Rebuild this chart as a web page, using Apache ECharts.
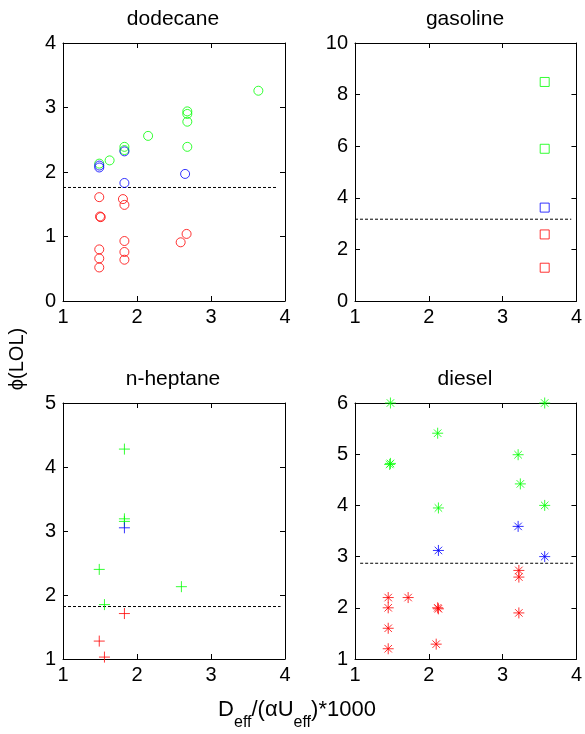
<!DOCTYPE html>
<html>
<head>
<meta charset="utf-8">
<script src="https://cdn.jsdelivr.net/npm/echarts@6/dist/echarts.min.js"></script>
<style>
html,body{margin:0;padding:0;background:#fff;}
#chart{width:585px;height:734px;}
</style>
</head>
<body>
<div id="chart"></div>
<script>
// ---- data ----
const panelTitles = ['dodecane', 'gasoline', 'n-heptane', 'diesel'];
const xTicks = [1, 4, 1];               // min, max, interval (all panels)
const yRanges = [[0, 4, 1], [0, 10, 2], [1, 5, 1], [1, 6, 1]];

const dodecaneGreen = [[1.49,2.13],[1.63,2.18],[1.83,2.39],[1.83,2.34],[2.15,2.56],[2.68,2.94],[2.68,2.90],[2.68,2.78],[2.68,2.39],[3.64,3.26]];
const dodecaneBlue  = [[1.49,2.10],[1.49,2.07],[1.83,2.32],[1.83,1.83],[2.65,1.97]];
const dodecaneRed   = [[1.49,1.61],[1.50,1.31],[1.51,1.30],[1.49,0.80],[1.49,0.66],[1.49,0.52],[1.81,1.58],[1.83,1.49],[1.83,0.93],[1.83,0.76],[1.83,0.64],[2.59,0.91],[2.67,1.04]];
const dodecaneThreshold = [[1.0,1.76],[3.89,1.76]];

const gasolineGreen = [[3.57,8.49],[3.57,5.90]];
const gasolineBlue  = [[3.57,3.62]];
const gasolineRed   = [[3.57,2.58],[3.57,1.29]];
const gasolineThreshold = [[1.0,3.17],[3.93,3.17]];

const heptaneGreen = [[1.83,4.28],[1.83,3.19],[1.83,3.15],[1.49,2.40],[1.56,1.85],[2.60,2.13]];
const heptaneBlue  = [[1.83,3.05]];
const heptaneRed   = [[1.83,1.71],[1.49,1.28],[1.56,1.03]];
const heptaneThreshold = [[1.0,1.82],[3.94,1.82]];

const dieselGreen = [[1.48,6.00],[1.48,4.82],[1.47,4.80],[2.12,5.41],[2.13,3.95],[3.21,4.99],[3.24,4.42],[3.57,6.00],[3.57,4.00]];
const dieselBlue  = [[2.13,3.12],[3.21,3.59],[3.57,3.00]];
const dieselRed   = [[1.45,2.20],[1.45,2.00],[1.45,1.60],[1.45,1.20],[1.72,2.20],[2.12,2.00],[2.13,1.98],[2.10,1.29],[3.22,2.73],[3.22,2.60],[3.22,1.90]];
const dieselThreshold = [[1.07,2.87],[3.96,2.87]];

const yAxisLabel = 'ϕ(LOL)';

// ---- styling ----
const FONT = 'Liberation Sans, Arial, sans-serif';
const COLORS = {green: '#00ff00', blue: '#0000ff', red: '#ff0000'};
const grids = [
  {left: 63, top: 43, width: 222, height: 258},
  {left: 355, top: 43, width: 223, height: 258},
  {left: 63, top: 403, width: 222, height: 256},
  {left: 355, top: 403, width: 223, height: 256}
];
const markers = [
  {symbol: 'circle', size: 9},
  {symbol: 'rect', size: 9},
  {symbol: 'path://M0,5L10,5M5,0L5,10', size: 11},
  {symbol: 'path://M0,5L10,5M5,0L5,10M1.6,1.6L8.4,8.4M8.4,1.6L1.6,8.4', size: 11}
];
const panelData = [
  [dodecaneGreen, dodecaneBlue, dodecaneRed, dodecaneThreshold],
  [gasolineGreen, gasolineBlue, gasolineRed, gasolineThreshold],
  [heptaneGreen, heptaneBlue, heptaneRed, heptaneThreshold],
  [dieselGreen, dieselBlue, dieselRed, dieselThreshold]
];

const xAxes = [], yAxes = [], series = [];
grids.forEach((g, i) => {
  const common = {
    type: 'value', gridIndex: i,
    axisLine: {show: true, onZero: false, lineStyle: {color: '#000', width: 1}},
    axisTick: {show: true, inside: true, length: 5, lineStyle: {color: '#000', width: 1}},
    splitLine: {show: false}
  };
  const lbl = {show: true, color: '#000', fontSize: 20, fontFamily: FONT};
  xAxes.push(Object.assign({}, common, {position: 'bottom', min: xTicks[0], max: xTicks[1], interval: xTicks[2],
    axisLabel: Object.assign({}, lbl, {margin: 6})}));
  xAxes.push(Object.assign({}, common, {position: 'top', min: xTicks[0], max: xTicks[1], interval: xTicks[2],
    axisLabel: {show: false}}));
  const yr = yRanges[i];
  yAxes.push(Object.assign({}, common, {position: 'left', min: yr[0], max: yr[1], interval: yr[2],
    axisLabel: Object.assign({}, lbl, {margin: 7})}));
  yAxes.push(Object.assign({}, common, {position: 'right', min: yr[0], max: yr[1], interval: yr[2],
    axisLabel: {show: false}}));

  const m = markers[i];
  const d = panelData[i];
  ['green', 'blue', 'red'].forEach((c, k) => {
    series.push({
      type: 'scatter', xAxisIndex: i * 2, yAxisIndex: i * 2,
      data: d[k], symbol: m.symbol, symbolSize: m.size,
      itemStyle: {color: 'rgba(0,0,0,0)', borderColor: COLORS[c], borderWidth: 1},
      emphasis: {disabled: true}, silent: true, z: 3
    });
  });
  series.push({
    type: 'line', xAxisIndex: i * 2, yAxisIndex: i * 2,
    data: d[3], symbol: 'none',
    lineStyle: {color: '#000', width: 1, type: [3, 2]},
    silent: true, z: 2
  });
});

const titleCenters = [[173, 19], [465, 19], [173, 379], [465, 379]];
const graphics = panelTitles.map((t, i) => ({
  type: 'text', x: titleCenters[i][0], y: titleCenters[i][1],
  style: {text: t, fill: '#000', font: '21px ' + FONT, textAlign: 'center', textVerticalAlign: 'middle'}
}));
graphics.push({
  type: 'text', x: 17, y: 359, rotation: Math.PI / 2,
  style: {text: yAxisLabel, fill: '#000', font: '20px ' + FONT, textAlign: 'center', textVerticalAlign: 'middle'}
});
graphics.push({
  type: 'text', x: 297, y: 714,
  style: {
    text: '{n|D}{s|eff}{n|/(αU}{s|eff}{n|)*1000}',
    textAlign: 'center', textVerticalAlign: 'middle',
    rich: {
      n: {fontSize: 22, fontFamily: FONT, fill: '#000', color: '#000', lineHeight: 34, verticalAlign: 'top', padding: [2, 0, 0, 0]},
      s: {fontSize: 16, fontFamily: FONT, fill: '#000', color: '#000', lineHeight: 34, verticalAlign: 'bottom'}
    }
  }
});

const chart = echarts.init(document.getElementById('chart'), null, {renderer: 'canvas'});
chart.setOption({
  animation: false,
  backgroundColor: '#fff',
  grid: grids,
  xAxis: xAxes,
  yAxis: yAxes,
  series: series,
  graphic: graphics
});
</script>
</body>
</html>
